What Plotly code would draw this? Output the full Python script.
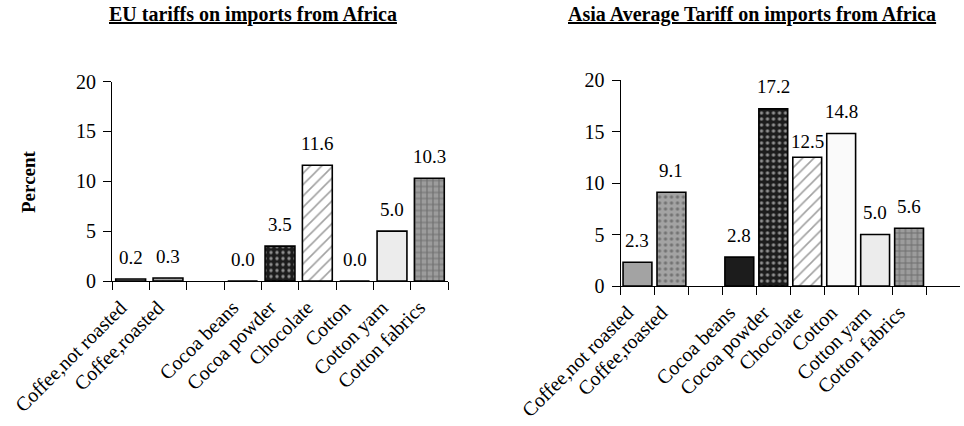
import plotly.graph_objects as go

# Product categories (blank entries leave an empty slot on the axis)
eu_categories = ["Coffee,not roasted", "Coffee,roasted", " ", "Cocoa beans",
                 "Cocoa powder", "Chocolate", "Cotton", "Cotton yarn", "Cotton fabrics"]
asia_categories = eu_categories + ["  "]

# Tariff rates, percent
eu_tariffs = [0.2, 0.3, None, 0.0, 3.5, 11.6, 0.0, 5.0, 10.3]
asia_tariffs = [2.3, 9.1, None, 2.8, 17.2, 12.5, 14.8, 5.0, 5.6, None]

y_ticks = [0, 5, 10, 15, 20]

W, H = 964, 426
FONT = "Liberation Serif, Times New Roman, serif"

# Fill style for each product: (background, pattern shape, pattern colour, size, solidity)
product_style = {
    "Coffee,not roasted": ("#a3a3a3", "", "#ffffff", 6, 0.2),
    "Coffee,roasted": ("#a3a3a3", ".", "#ececec", 6, 0.25),
    "Cocoa beans": ("#1c1c1c", "", "#ffffff", 6, 0.2),
    "Cocoa powder": ("#1c1c1c", ".", "#d8d8d8", 6, 0.25),
    "Chocolate": ("#ffffff", "/", "#9a9a9a", 8, 0.2),
    "Cotton": ("#fafafa", "", "#ffffff", 6, 0.2),
    "Cotton yarn": ("#ececec", "", "#ffffff", 6, 0.2),
    "Cotton fabrics": ("#9c9c9c", "+", "#d2d2d2", 6, 0.35),
}
blank_style = ("#ffffff", "", "#ffffff", 6, 0.2)


def styles(cats):
    return [product_style.get(c, blank_style) for c in cats]


fig = go.Figure()


def add_bars(cats, vals, xa, ya, width):
    st = styles(cats)
    fig.add_trace(go.Bar(
        x=cats, y=vals, xaxis=xa, yaxis=ya, width=width,
        marker=dict(
            color=[s[0] for s in st],
            line=dict(color="#000000", width=1.6),
            pattern=dict(
                fillmode="overlay",
                shape=[s[1] for s in st],
                fgcolor=[s[2] for s in st],
                size=[s[3] for s in st],
                solidity=[s[4] for s in st],
            ),
        ),
        showlegend=False, hoverinfo="skip",
    ))


add_bars(eu_categories, eu_tariffs, "x", "y", 0.8)
add_bars(asia_categories, asia_tariffs, "x2", "y2", 0.85)

# Value labels above each bar
label_shift = {("x2", "Chocolate"): 16}
annotations = []
for cats, vals, xa, ya in [(eu_categories, eu_tariffs, "x", "y"),
                           (asia_categories, asia_tariffs, "x2", "y2")]:
    for c, v in zip(cats, vals):
        if v is None:
            continue
        annotations.append(dict(
            x=c, y=v, xref=xa, yref=ya, text=f"{v:.1f}", showarrow=False,
            xanchor="center", yanchor="middle",
            yshift=label_shift.get((xa, c), 22),
            font=dict(family=FONT, size=19, color="#000000"),
        ))

# Chart titles and shared axis label
title_font = dict(family=FONT, size=20, color="#000000", weight="bold", lineposition="under")
annotations += [
    dict(x=253 / W, y=1 - 14 / H, xref="paper", yref="paper", showarrow=False,
         xanchor="center", yanchor="middle",
         text="EU tariffs on imports from Africa", font=title_font),
    dict(x=752 / W, y=1 - 14 / H, xref="paper", yref="paper", showarrow=False,
         xanchor="center", yanchor="middle",
         text="Asia Average Tariff on imports from Africa", font=title_font),
    dict(x=29 / W, y=1 - 182 / H, xref="paper", yref="paper", showarrow=False,
         xanchor="center", yanchor="middle",
         text="<b>Percent</b>", textangle=-90,
         font=dict(family=FONT, size=19, color="#000000")),
]

xaxis_common = dict(
    type="category", showline=True, linecolor="#000000", linewidth=1,
    ticks="outside", tickson="boundaries", ticklen=8, tickcolor="#000000",
    tickangle=-45, showgrid=False, zeroline=False, fixedrange=True, automargin=False,
    ticklabelshift=-10, ticklabelstandoff=6,
    tickfont=dict(family=FONT, size=20, color="#000000"),
)
yaxis_common = dict(
    range=[0, 20], tickvals=y_ticks, showline=True, linecolor="#000000", linewidth=1,
    ticks="outside", ticklen=8, tickcolor="#000000", showgrid=False, zeroline=False,
    fixedrange=True, automargin=False, ticklabelstandoff=3,
    tickfont=dict(family=FONT, size=20, color="#000000"),
)

fig.update_layout(
    width=W, height=H,
    margin=dict(l=0, r=0, t=0, b=0, autoexpand=False),
    paper_bgcolor="#ffffff", plot_bgcolor="#ffffff",
    font=dict(family=FONT, color="#000000"),
    xaxis=dict(xaxis_common, domain=[112 / W, 448 / W], anchor="y",
               categoryorder="array", categoryarray=eu_categories, range=[-0.5, 8.5]),
    yaxis=dict(yaxis_common, domain=[1 - 281 / H, 1 - 81.5 / H], anchor="x"),
    xaxis2=dict(xaxis_common, domain=[620.5 / W, 960 / W], anchor="y2",
                categoryorder="array", categoryarray=asia_categories, range=[-0.5, 9.5]),
    yaxis2=dict(yaxis_common, domain=[1 - 286 / H, 1 - 80 / H], anchor="x2"),
    annotations=annotations,
    bargap=0.2,
)

fig.write_html("out.html")
